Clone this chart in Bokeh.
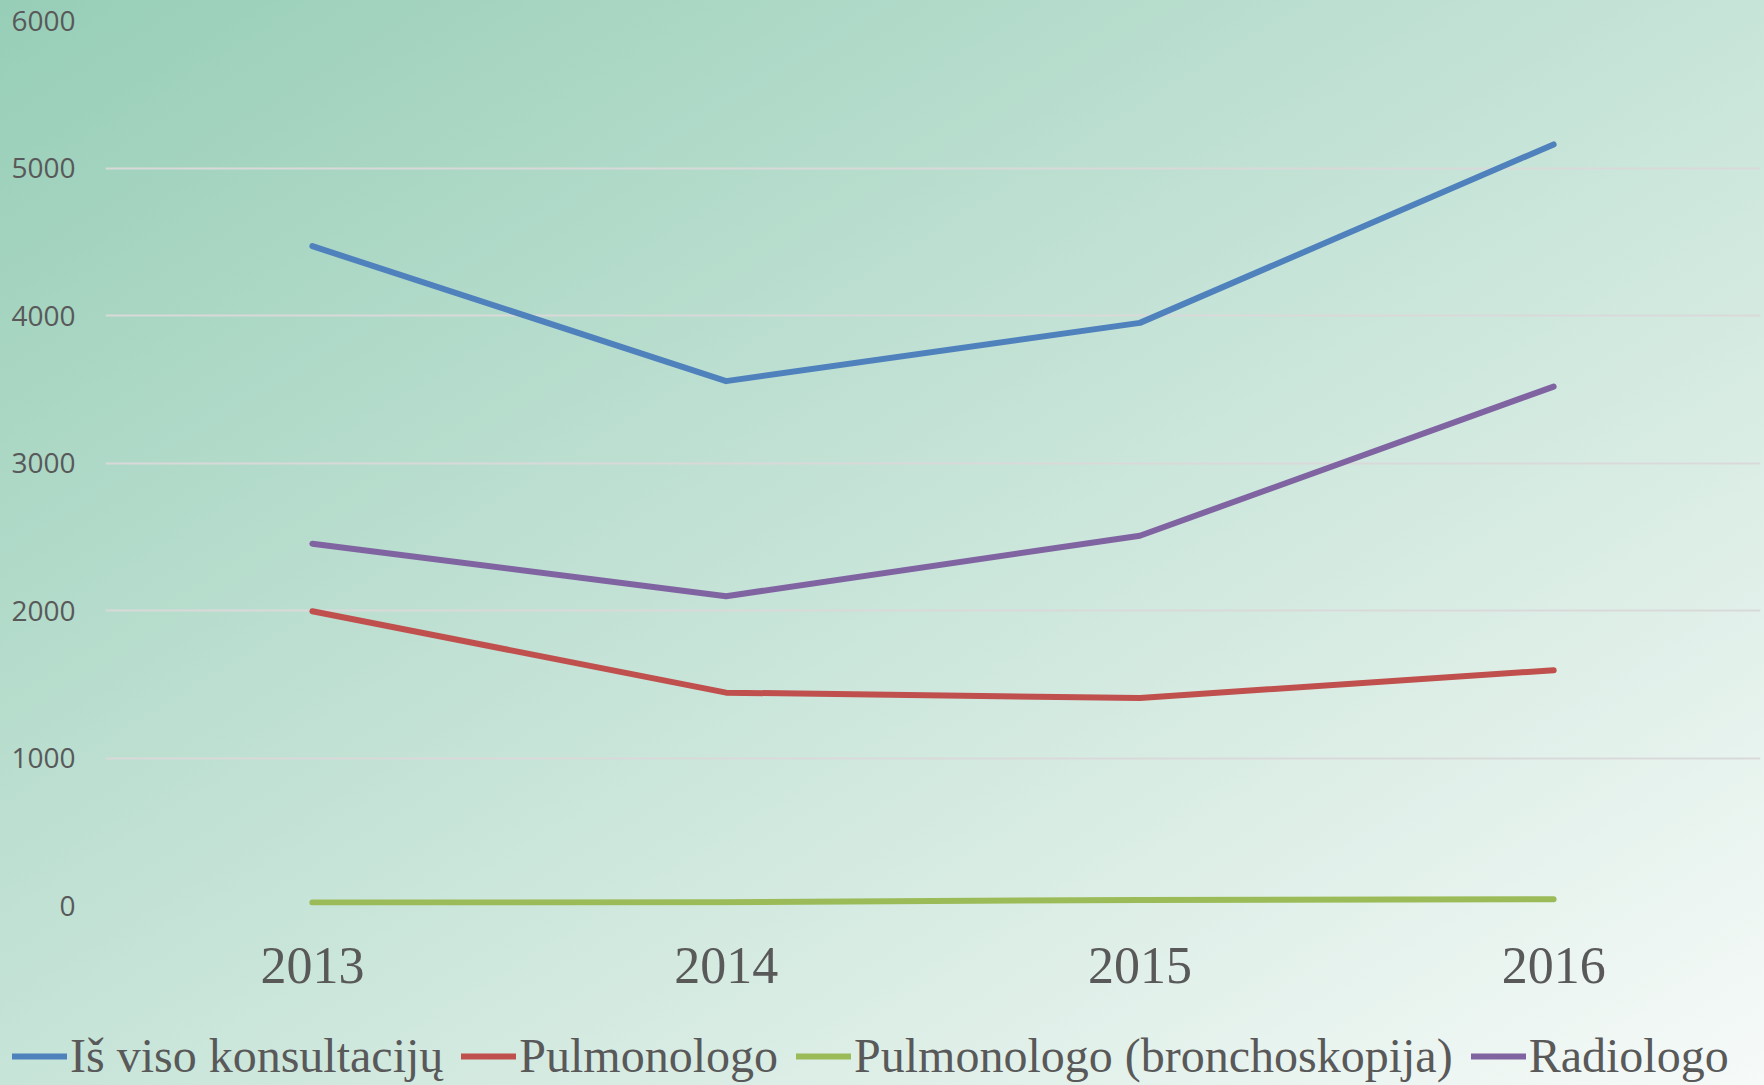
from bokeh.plotting import figure
from bokeh.layouts import column
from bokeh.models import (FactorRange, Range1d, SingleIntervalTicker, Legend, LegendItem)
from bokeh.embed import file_html
from bokeh.resources import INLINE

years = ["2013", "2014", "2015", "2016"]
total = [4470, 3555, 3950, 5160]
pulmonologo = [1995, 1443, 1407, 1595]
bronchoskopija = [20, 22, 38, 42]
radiologo = [2453, 2097, 2507, 3518]

series_names = ["Iš viso konsultacijų", "Pulmonologo",
                "Pulmonologo (bronchoskopija)", "Radiologo"]
series_values = [total, pulmonologo, bronchoskopija, radiologo]
colors = ["#4f81bd", "#c0504d", "#9bbb59", "#8064a2"]

W, H_MAIN, H_LEG = 1764, 1000, 85
LEFT, RIGHT = 105, 4

p = figure(width=W, height=H_MAIN, output_backend="svg", toolbar_location=None,
           x_range=FactorRange(factors=years, range_padding=0),
           y_range=Range1d(0, 6000),
           min_border_left=LEFT, min_border_right=RIGHT, min_border_top=20,
           min_border_bottom=H_MAIN - 905)
p.frame_align = False
p.background_fill_color = None
p.border_fill_color = None
p.outline_line_color = None

for vals, col in zip(series_values, colors):
    p.line(years, vals, line_color=col, line_width=6,
           line_cap="round", line_join="round")

p.xgrid.grid_line_color = None
p.ygrid.grid_line_color = "#d9d9d9"
p.ygrid.grid_line_width = 2

p.yaxis.ticker = SingleIntervalTicker(interval=1000)
p.yaxis.axis_line_color = None
p.yaxis.major_tick_line_color = None
p.yaxis.minor_tick_line_color = None
p.yaxis.major_label_text_font = "Open Sans"
p.yaxis.major_label_text_font_size = "28px"
p.yaxis.major_label_text_color = "#595959"
p.yaxis.major_label_standoff = 24

p.xaxis.axis_line_color = None
p.xaxis.major_tick_line_color = None
p.xaxis.minor_tick_line_color = None
p.xaxis.major_label_text_font = "Liberation Serif"
p.xaxis.major_label_text_font_size = "52px"
p.xaxis.major_label_text_color = "#595959"
p.xaxis.major_label_standoff = 36

# legend strip (its series lie outside its visible range; only the legend shows)
pl = figure(width=W, height=H_LEG, output_backend="svg", toolbar_location=None,
            x_range=Range1d(-10, -9), y_range=Range1d(-3000, -2000),
            x_axis_type=None, y_axis_type=None,
            min_border_left=0, min_border_right=0,
            min_border_top=0, min_border_bottom=0)
pl.frame_align = False
pl.background_fill_color = None
pl.border_fill_color = None
pl.outline_line_color = None
pl.grid.grid_line_color = None

items = []
for name, vals, col in zip(series_names, series_values, colors):
    r = pl.line(list(range(len(vals))), vals, line_color=col, line_width=6,
                line_cap="round")
    items.append(LegendItem(label=name, renderers=[r]))

legend = Legend(items=items, orientation="horizontal", location=(12, 2),
                label_text_font="Liberation Serif", label_text_font_size="48px",
                label_text_color="#595959", glyph_width=55, label_standoff=3,
                spacing=18, padding=0, margin=0,
                background_fill_alpha=0, border_line_color=None)
pl.add_layout(legend, "center")

layout = column(p, pl, spacing=0,
                styles={"background": "linear-gradient(to bottom right, #97ceb7 0%, #c7e4d8 50%, #f6faf8 100%)"})

open("out.html", "w").write(file_html(layout, INLINE))
